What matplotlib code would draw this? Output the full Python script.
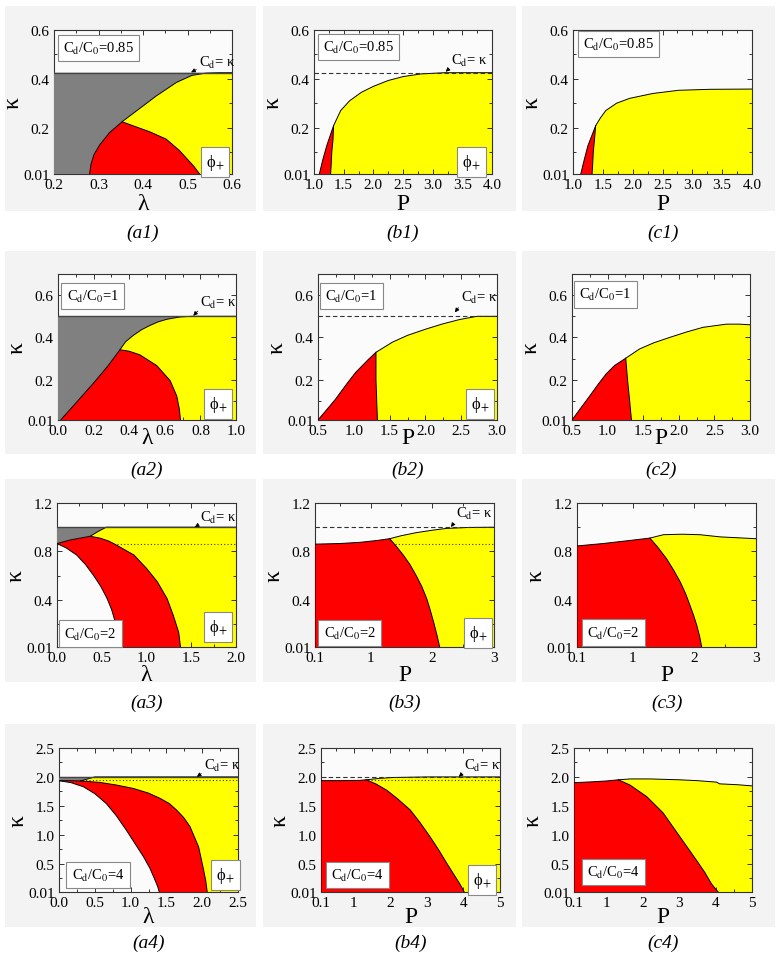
import numpy as np
import matplotlib.pyplot as plt
from matplotlib.patches import Rectangle
from matplotlib.ticker import MultipleLocator

plt.rcParams['font.family'] = ['Liberation Serif', 'DejaVu Serif']
plt.rcParams['mathtext.fontset'] = 'stix'

W, H = 778, 954

# ---------------- data ----------------
# row 1 : Cd/C0 = 0.85
a1_out_lam = [0.28, 0.283, 0.29, 0.303, 0.325, 0.353, 0.39, 0.43, 0.475, 0.51, 0.54, 0.57, 0.60]
a1_out_kap = [0.01, 0.05, 0.09, 0.13, 0.18, 0.224, 0.275, 0.33, 0.385, 0.414, 0.423, 0.425, 0.425]
a1_split_lam = [0.353, 0.38, 0.415, 0.452, 0.482, 0.50, 0.515, 0.527]
a1_split_kap = [0.224, 0.206, 0.183, 0.153, 0.106, 0.07, 0.04, 0.01]

b1_out_P = [1.09, 1.15, 1.22, 1.33, 1.45, 1.6, 1.8, 2.0, 2.25, 2.5, 2.8, 3.2, 4.0]
b1_out_kap = [0.01, 0.07, 0.13, 0.208, 0.27, 0.31, 0.345, 0.369, 0.393, 0.409, 0.42, 0.425, 0.425]
b1_split_P = [1.33, 1.32, 1.30, 1.29, 1.28]
b1_split_kap = [0.208, 0.15, 0.10, 0.05, 0.01]

c1_out_P = [1.13, 1.19, 1.25, 1.32, 1.38, 1.46, 1.55, 1.73, 1.95, 2.34, 2.77, 3.3, 4.0]
c1_out_kap = [0.01, 0.07, 0.126, 0.17, 0.208, 0.24, 0.27, 0.30, 0.32, 0.34, 0.353, 0.357, 0.358]
c1_split_P = [1.38, 1.36, 1.34, 1.33, 1.32]
c1_split_kap = [0.208, 0.15, 0.10, 0.05, 0.01]

# row 2 : Cd/C0 = 1
a2_out_lam = [0.015, 0.1, 0.2, 0.28, 0.348, 0.38, 0.423, 0.47, 0.517, 0.56, 0.611, 0.686, 0.75, 1.0]
a2_out_kap = [0.01, 0.09, 0.185, 0.265, 0.342, 0.38, 0.41, 0.437, 0.457, 0.473, 0.486, 0.497, 0.5, 0.5]
a2_split_lam = [0.348, 0.40, 0.46, 0.555, 0.63, 0.667, 0.682, 0.688]
a2_split_kap = [0.342, 0.335, 0.318, 0.267, 0.196, 0.124, 0.061, 0.01]

b2_out_P = [0.5, 0.6, 0.744, 0.9, 1.026, 1.2, 1.31, 1.54, 1.75, 2.01, 2.25, 2.48, 2.72, 3.0]
b2_out_kap = [0.01, 0.05, 0.108, 0.18, 0.235, 0.295, 0.33, 0.378, 0.41, 0.44, 0.465, 0.485, 0.5, 0.5]
b2_split_P = [1.31, 1.31, 1.32, 1.33]
b2_split_kap = [0.33, 0.2, 0.1, 0.01]

c2_out_P = [0.5, 0.62, 0.75, 0.87, 0.98, 1.1, 1.255, 1.45, 1.65, 1.87, 2.1, 2.34, 2.67, 2.85, 3.0]
c2_out_kap = [0.01, 0.065, 0.124, 0.18, 0.228, 0.268, 0.302, 0.346, 0.375, 0.40, 0.425, 0.448, 0.463, 0.463, 0.46]
c2_split_P = [1.255, 1.28, 1.31, 1.335]
c2_split_kap = [0.302, 0.2, 0.1, 0.01]

# row 3 : Cd/C0 = 2
a3_out_lam = [0.0, 0.15, 0.37, 0.46, 0.55, 2.0]
a3_out_kap = [0.865, 0.895, 0.925, 0.965, 1.0, 1.0]
a3_split_lam = [0.37, 0.48, 0.58, 0.67, 0.86, 1.0, 1.12, 1.23, 1.30, 1.36, 1.38]
a3_split_kap = [0.925, 0.91, 0.885, 0.85, 0.77, 0.66, 0.55, 0.41, 0.27, 0.13, 0.01]
a3_in_lam = [0.0, 0.1, 0.22, 0.32, 0.41, 0.49, 0.56, 0.61, 0.65, 0.68, 0.70]
a3_in_kap = [0.865, 0.83, 0.77, 0.69, 0.60, 0.51, 0.41, 0.32, 0.22, 0.12, 0.01]

b3_out_P = [0.1, 0.1, 0.5, 0.83, 1.1, 1.31, 1.5, 1.74, 2.0, 2.23, 2.6, 3.0]
b3_out_kap = [0.01, 0.86, 0.865, 0.875, 0.89, 0.905, 0.93, 0.955, 0.975, 0.99, 0.998, 1.0]
b3_split_P = [1.31, 1.42, 1.53, 1.64, 1.74, 1.83, 1.91, 1.97, 2.03, 2.08, 2.12]
b3_split_kap = [0.905, 0.84, 0.77, 0.69, 0.60, 0.51, 0.41, 0.31, 0.2, 0.1, 0.01]

c3_out_P = [0.1, 0.1, 0.52, 0.95, 1.28, 1.5, 1.8, 2.09, 2.42, 3.0]
c3_out_kap = [0.01, 0.845, 0.865, 0.89, 0.91, 0.938, 0.942, 0.938, 0.92, 0.905]
c3_split_P = [1.28, 1.4, 1.55, 1.66, 1.77, 1.86, 1.93, 1.99, 2.04, 2.09, 2.12]
c3_split_kap = [0.91, 0.84, 0.74, 0.65, 0.55, 0.45, 0.355, 0.27, 0.19, 0.09, 0.01]

# row 4 : Cd/C0 = 4
a4_out_lam = [0.0, 0.15, 0.3, 0.4, 0.5, 2.5]
a4_out_kap = [1.935, 1.935, 1.93, 1.965, 2.0, 2.0]
a4_split_lam = [0.3, 0.57, 0.8, 1.04, 1.25, 1.41, 1.54, 1.64, 1.74, 1.83, 1.95, 2.02, 2.05, 2.07]
a4_split_kap = [1.93, 1.905, 1.86, 1.80, 1.72, 1.63, 1.54, 1.43, 1.30, 1.14, 0.79, 0.39, 0.2, 0.01]
a4_in_lam = [0.0, 0.17, 0.34, 0.5, 0.66, 0.8, 0.94, 1.06, 1.18, 1.27, 1.34, 1.38, 1.40]
a4_in_kap = [1.935, 1.9, 1.83, 1.71, 1.54, 1.33, 1.08, 0.85, 0.62, 0.42, 0.22, 0.1, 0.01]

b4_out_P = [0.1, 0.1, 0.6, 1.17, 1.33, 1.7, 2.08, 3.0, 5.0]
b4_out_kap = [0.01, 1.935, 1.935, 1.94, 1.95, 1.975, 1.99, 2.0, 2.0]
b4_split_P = [1.33, 1.6, 1.9, 2.2, 2.54, 2.8, 3.08, 3.32, 3.54, 3.75, 3.9, 3.98, 4.02]
b4_split_kap = [1.95, 1.88, 1.77, 1.62, 1.43, 1.22, 0.97, 0.74, 0.51, 0.3, 0.15, 0.06, 0.01]

c4_out_P = [0.1, 0.1, 0.6, 1.0, 1.32, 1.64, 2.2, 3.01, 3.5, 4.02, 4.11, 4.6, 5.0]
c4_out_kap = [0.01, 1.90, 1.915, 1.93, 1.95, 1.965, 1.965, 1.95, 1.935, 1.91, 1.88, 1.865, 1.845]
c4_split_P = [1.32, 1.64, 2.1, 2.55, 3.01, 3.47, 3.7, 3.88, 4.0, 4.07]
c4_split_kap = [1.95, 1.86, 1.66, 1.38, 0.97, 0.56, 0.35, 0.155, 0.06, 0.01]

ratio_labels = ['0.85', '1', '2', '4']
kappa_top = [0.425, 0.5, 1.0, 2.0]
kappa_dot = [None, None, 0.865, 1.94]
ylims = [0.6, 0.7, 1.2, 2.5]
yticks = [[0.01, 0.2, 0.4, 0.6], [0.01, 0.2, 0.4, 0.6], [0.01, 0.4, 0.8, 1.2],
          [0.01, 0.5, 1.0, 1.5, 2.0, 2.5]]
ylabels_txt = [['0.01', '0.2', '0.4', '0.6'], ['0.01', '0.2', '0.4', '0.6'],
               ['0.01', '0.4', '0.8', '1.2'], ['0.01', '0.5', '1.0', '1.5', '2.0', '2.5']]
xlims = [[(0.2, 0.6), (1.0, 4.0), (1.0, 4.0)],
         [(0.0, 1.0), (0.5, 3.0), (0.5, 3.0)],
         [(0.0, 2.0), (0.1, 3.0), (0.1, 3.0)],
         [(0.0, 2.5), (0.1, 5.0), (0.1, 5.0)]]
xticks = [[[0.2, 0.3, 0.4, 0.5, 0.6], [1.0, 1.5, 2.0, 2.5, 3.0, 3.5, 4.0]],
          [[0.0, 0.2, 0.4, 0.6, 0.8, 1.0], [0.5, 1.0, 1.5, 2.0, 2.5, 3.0]],
          [[0.0, 0.5, 1.0, 1.5, 2.0], [0.1, 1, 2, 3]],
          [[0.0, 0.5, 1.0, 1.5, 2.0, 2.5], [0.1, 1, 2, 3, 4, 5]]]
xtick_txt = [[['0.2', '0.3', '0.4', '0.5', '0.6'], ['1.0', '1.5', '2.0', '2.5', '3.0', '3.5', '4.0']],
             [['0.0', '0.2', '0.4', '0.6', '0.8', '1.0'], ['0.5', '1.0', '1.5', '2.0', '2.5', '3.0']],
             [['0.0', '0.5', '1.0', '1.5', '2.0'], ['0.1', '1', '2', '3']],
             [['0.0', '0.5', '1.0', '1.5', '2.0', '2.5'], ['0.1', '1', '2', '3', '4', '5']]]
xminor = [[0.05, 0.25], [0.1, 0.25], [0.25, 0.5], [0.25, 0.5]]
yminor = [0.1, 0.1, 0.2, 0.25]
xlabel_pad = [1, -7, 0, -2]

# panel geometry in pixels (left, right), (top, bottom)
boxes = [[(54, 232), (314, 492), (573, 752)],
         [(58, 236), (318, 497), (572, 750)],
         [(57, 236), (315, 494), (577, 756)],
         [(59, 238), (321, 500), (574, 752)]]
rows_tb = [(31, 175), (275, 421), (504, 648), (749, 893)]
bg_rows = [(7, 212), (252, 455), (480, 683), (725, 928)]
bg_cols = [(5, 256), (263, 516), (522, 775)]
label_y = [233, 470, 703, 943]

GRAY, RED, YEL = '#808080', '#ff0000', '#ffff00'

fig = plt.figure(figsize=(W / 100, H / 100), dpi=100)
fig.patch.set_facecolor('white')
for (t, b) in bg_rows:
    for (l, r) in bg_cols:
        fig.patches.append(Rectangle((l / W, 1 - b / H), (r - l) / W, (b - t) / H,
                                     transform=fig.transFigure, fc='#f3f3f3', ec='none',
                                     zorder=-10))


def draw(ax, xlim, ymin, top, ox, oy, j, sx, sy, ix=None, iy=None, gray=False):
    ox, oy, sx, sy = map(np.asarray, (ox, oy, sx, sy))
    xmin, xmax = xlim
    # yellow region: outer curve from junction, right edge, split curve back
    yx = np.concatenate([ox[j:], [xmax], sx[::-1]])
    yy = np.concatenate([oy[j:], [ymin], sy[::-1]])
    ax.fill(yx, yy, fc=YEL, ec='none', zorder=1)
    # red region
    rx = np.concatenate([ox[:j + 1], sx[1:]])
    ry = np.concatenate([oy[:j + 1], sy[1:]])
    if ix is not None:
        rx = np.concatenate([rx, np.asarray(ix)[::-1]])
        ry = np.concatenate([ry, np.asarray(iy)[::-1]])
    ax.fill(rx, ry, fc=RED, ec='none', zorder=3)
    if gray:
        gx = np.concatenate([[xmin], ox, [xmin]])
        gy = np.concatenate([[oy[0]], oy, [top]])
        ax.fill(gx, gy, fc=GRAY, ec='none', zorder=3)
    ax.plot(ox, oy, color='k', lw=0.7, zorder=4)
    ax.plot(sx, sy, color='k', lw=0.7, zorder=4)
    if ix is not None:
        ax.plot(ix, iy, color='k', lw=0.7, zorder=4)


panels = [
    [(a1_out_lam, a1_out_kap, 5, a1_split_lam, a1_split_kap, None, None),
     (b1_out_P, b1_out_kap, 3, b1_split_P, b1_split_kap, None, None),
     (c1_out_P, c1_out_kap, 4, c1_split_P, c1_split_kap, None, None)],
    [(a2_out_lam, a2_out_kap, 4, a2_split_lam, a2_split_kap, None, None),
     (b2_out_P, b2_out_kap, 6, b2_split_P, b2_split_kap, None, None),
     (c2_out_P, c2_out_kap, 6, c2_split_P, c2_split_kap, None, None)],
    [(a3_out_lam, a3_out_kap, 2, a3_split_lam, a3_split_kap, a3_in_lam, a3_in_kap),
     (b3_out_P, b3_out_kap, 5, b3_split_P, b3_split_kap, None, None),
     (c3_out_P, c3_out_kap, 4, c3_split_P, c3_split_kap, None, None)],
    [(a4_out_lam, a4_out_kap, 2, a4_split_lam, a4_split_kap, a4_in_lam, a4_in_kap),
     (b4_out_P, b4_out_kap, 4, b4_split_P, b4_split_kap, None, None),
     (c4_out_P, c4_out_kap, 4, c4_split_P, c4_split_kap, None, None)],
]

# text positions (axes fraction); ratio text is left aligned
ratio_pos = [[(0.05, 0.877), (0.052, 0.88), (0.057, 0.905)],
             [(0.048, 0.85), (0.04, 0.85), (0.04, 0.86)],
             [(0.04, 0.093), (0.048, 0.095), (0.057, 0.10)],
             [(0.07, 0.116), (0.057, 0.12), (0.072, 0.14)]]
phi_pos = [[(0.903, 0.086), (0.886, 0.086)],
           [(0.90, 0.11), (0.906, 0.11)],
           [(0.90, 0.14), (0.91, 0.10)],
           [(0.93, 0.115), (0.90, 0.08)]]
cd_txt = [[(0.815, 0.78, 0.77, 0.706), (0.77, 0.79, 0.74, 0.71)],
          [(0.80, 0.81, 0.76, 0.714), (0.80, 0.84, 0.765, 0.737)],
          [(0.80, 0.90, 0.77, 0.833), (0.79, 0.93, 0.76, 0.833)],
          [(0.81, 0.88, 0.77, 0.80), (0.80, 0.88, 0.77, 0.80)]]
cols = ['a', 'b', 'c']

for r in range(4):
    t, b = rows_tb[r]
    for c in range(3):
        l, rr = boxes[r][c]
        ax = fig.add_axes([l / W, 1 - b / H, (rr - l) / W, (b - t) / H])
        ax.set_facecolor('#fbfbfb')
        xl = xlims[r][c]
        ox, oy, j, sx, sy, ix, iy = panels[r][c]
        draw(ax, xl, 0.01, kappa_top[r], ox, oy, j, sx, sy, ix, iy, gray=(c == 0))
        if c == 0:
            ax.axhline(kappa_top[r], color='#444444', lw=1.0, zorder=5)
        elif c == 1:
            ax.axhline(kappa_top[r], color='#333333', lw=0.8, ls=(0, (4, 2.5)), zorder=5)
        if kappa_dot[r] is not None and c < 2:
            ax.axhline(kappa_dot[r], color='#333333', lw=0.8, ls=(0, (1, 2)), zorder=2)
        ax.set_xlim(*xl)
        ax.set_ylim(0.01, ylims[r])
        k = 0 if c == 0 else 1
        ax.set_xticks(xticks[r][k], xtick_txt[r][k])
        ax.set_yticks(yticks[r], ylabels_txt[r])
        ax.xaxis.set_minor_locator(MultipleLocator(xminor[r][k]))
        ax.yaxis.set_minor_locator(MultipleLocator(yminor[r]))
        ax.tick_params(which='both', direction='in', top=True, right=True,
                       labelsize=11, width=0.7, color='#333333')
        ax.tick_params(axis='x', pad=3)
        ax.tick_params(axis='y', pad=3)
        ax.tick_params(which='major', length=3.5)
        ax.tick_params(which='minor', length=2)
        for s in ax.spines.values():
            s.set_linewidth(0.8)
            s.set_color('#333333')
        ax.set_xlabel('λ' if c == 0 else 'P', fontsize=17, labelpad=xlabel_pad[r])
        ax.set_ylabel('κ', fontsize=17, labelpad=0)
        # ratio box
        px, py = ratio_pos[r][c]
        ax.text(px, py, r'C$_{\rm d}$/C$_{\rm 0}$=' + ratio_labels[r], transform=ax.transAxes,
                ha='left', va='center', fontsize=10.5, zorder=6,
                bbox=dict(boxstyle='square,pad=0.35', fc='white', ec='#888888', lw=0.8))
        if c < 2:
            px, py = phi_pos[r][c]
            ax.text(px, py, 'ϕ$_{+}$', transform=ax.transAxes, ha='center', va='center',
                    fontsize=12, zorder=6,
                    bbox=dict(boxstyle='square,pad=0.3', fc='white', ec='#888888', lw=0.8))
            tx, ty, ax_, ay_ = cd_txt[r][c]
            ax.annotate(r'C$_{\rm d}$= κ', xy=(ax_, ay_), xytext=(tx, ty),
                        xycoords='axes fraction', textcoords='axes fraction',
                        fontsize=10.5, ha='left', va='center', zorder=7,
                        arrowprops=dict(arrowstyle='-|>', lw=0.6, color='k', relpos=(0.0, 0.1),
                                        mutation_scale=6, shrinkA=0, shrinkB=0))
        fig.text(((l + rr) / 2) / W, 1 - label_y[r] / H, '(' + cols[c] + str(r + 1) + ')',
                 ha='center', va='center', fontsize=14, style='italic')

fig.savefig('out.png', dpi=100)
